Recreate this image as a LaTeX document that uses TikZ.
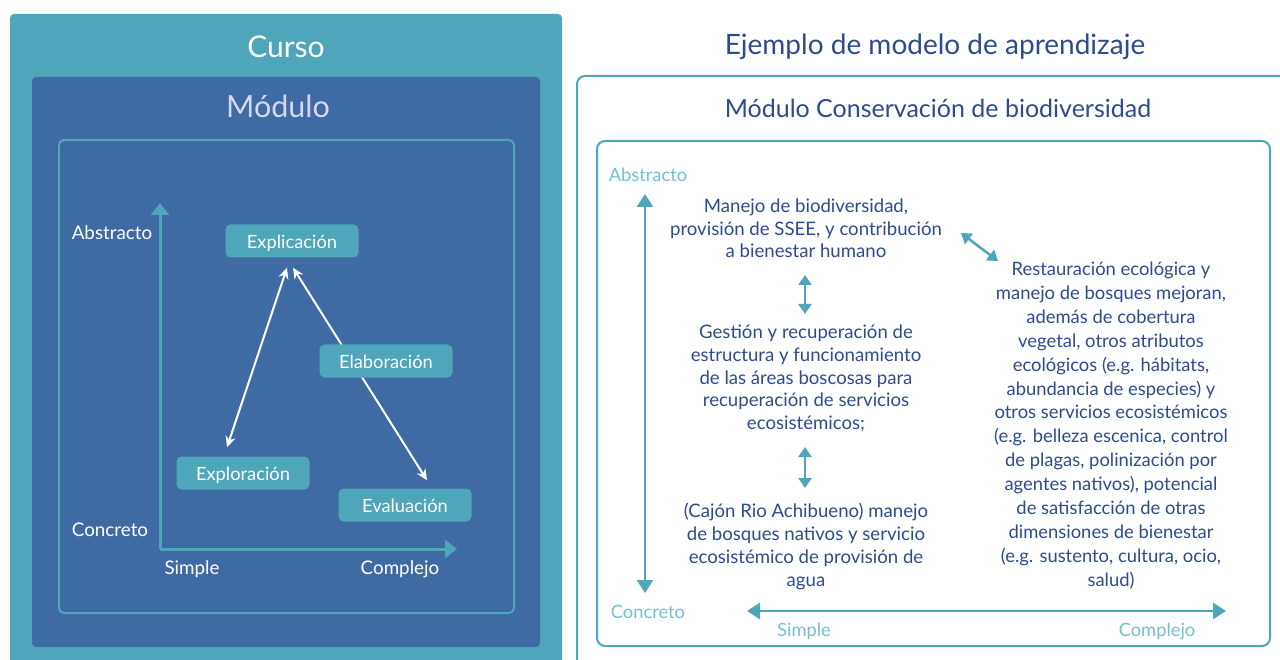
\documentclass[tikz,border=0pt]{standalone}
\usepackage{fontspec}
\setmainfont{Lato}
\usetikzlibrary{arrows.meta}
\definecolor{tealA}{HTML}{4FA6BA}
\definecolor{navybg}{HTML}{3E6BA3}
\definecolor{darkblue}{HTML}{2D4C8E}
\definecolor{lightteal}{HTML}{74C1CE}
\definecolor{lilac}{HTML}{D3D7F0}
\tikzset{
  stagebox/.style={fill=tealA, rounded corners=5, text=white, minimum width=133, minimum height=33, inner sep=0, text height=19, text depth=4, font=\fontsize{18.3}{20}\selectfont},
  warrow/.style={draw=white, line width=2, {Stealth[length=11,width=10]}-{Stealth[length=11,width=10]}},
  axisarrow/.style={draw=tealA, line width=3, -{Triangle[length=12,width=18]}},
  darr/.style={draw=tealA, line width=2.5, {Triangle[length=10,width=13]}-{Triangle[length=10,width=13]}},
  bigdarr/.style={draw=tealA, line width=2.5, {Triangle[length=13,width=16]}-{Triangle[length=13,width=16]}},
  axlabel/.style={text=white, font=\fontsize{18.8}{21}\selectfont, inner sep=0},
  raxlabel/.style={text=lightteal, font=\fontsize{18.3}{21}\selectfont, inner sep=0},
  bodytext/.style={text=darkblue, align=center, inner sep=0},
}
\begin{document}
\begin{tikzpicture}[x=1pt,y=-1pt]
\useasboundingbox (0,0) rectangle (1280,660);
\fill[white] (0,0) rectangle (1280,660);
% ---------- left panel
\fill[tealA, rounded corners=4] (10,14) rectangle (562,690);
\fill[navybg, rounded corners=4] (32,77) rectangle (540,647);
\draw[tealA, line width=2, rounded corners=5] (59,140) rectangle (514,613);
\node[text=white, font=\fontsize{30}{33}\selectfont] (curso) at (286,47) {Curso};
\node[text=lilac, font=\fontsize{30.5}{34}\selectfont] (modulo) at (278,106) {Módulo};

\coordinate (O) at (160,549);
\coordinate (ytop) at (160,203);
\coordinate (xend) at (457,549);
\draw[axisarrow] (O) -- (ytop);
\draw[axisarrow] (O) -- (xend);
\node[axlabel] (abs) at (112,233) {Abstracto};
\node[axlabel] (conc) at (110,530) {Concreto};
\node[axlabel] (simp) at (192,569) {Simple};
\node[axlabel] (comp) at (400,569) {Complejo};

\node[stagebox] (expli) at (292,241) {Explicación};
\node[stagebox] (explo) at (243,473) {Exploración};
\node[stagebox] (eval) at (405,505) {Evaluación};
\draw[warrow] ([xshift=-16pt,yshift=9pt]explo.north) -- ([xshift=-5pt,yshift=-10pt]expli.south);
\draw[warrow] ([xshift=1pt,yshift=-10pt]expli.south) -- ([xshift=22pt,yshift=8pt]eval.north);
\node[stagebox] (elab) at (386,361) {Elaboración};

% ---------- right panel
\node[text=darkblue, font=\fontsize{28}{32}\selectfont] (ejemplo) at (935,47) {Ejemplo de modelo de aprendizaje};
\draw[tealA, line width=2, rounded corners=8] (577,76) rectangle (1300,690);
\node[text=darkblue, font=\fontsize{25}{29}\selectfont] (modcons) at (938,108) {Módulo Conservación de biodiversidad};
\draw[tealA, line width=2, rounded corners=8] (597,141) rectangle (1270,646);

\node[raxlabel] (rabs) at (648,175) {Abstracto};
\node[raxlabel] (rconc) at (648,612) {Concreto};
\node[raxlabel] (rsimp) at (804,631) {Simple};
\node[raxlabel] (rcomp) at (1157,631) {Complejo};

\coordinate (vtop) at (645,194);
\coordinate (vbot) at (645,593);
\coordinate (hl) at (747,611);
\coordinate (hr) at (1226,611);
\draw[bigdarr] (vtop) -- (vbot);
\draw[bigdarr] (hl) -- (hr);

\node[bodytext, font=\fontsize{18.6}{22.5}\selectfont] (b1) at (806,228.5)
  {Manejo de biodiversidad,\\provisión de SSEE, y contribución\\a bienestar humano};
\node[bodytext, font=\fontsize{18.6}{22.75}\selectfont] (b2) at (806,378.5)
  {Gestión y recuperación de\\estructura y funcionamiento\\de las áreas boscosas para\\recuperación de servicios\\ecosistémicos;};
\node[bodytext, font=\fontsize{18.6}{23}\selectfont] (b3) at (806,546.5)
  {(Cajón Rio Achibueno) manejo\\de bosques nativos y servicio\\ecosistémico de provisión de\\agua};
\node[bodytext, font=\fontsize{18.4}{23.9}\selectfont] (b4) at (1111,425.5)
  {Restauración ecológica y\\manejo de bosques mejoran,\\además de cobertura\\vegetal, otros atributos\\ecológicos (e.g. hábitats,\\abundancia de especies) y\\otros servicios ecosistémicos\\(e.g. belleza escenica, control\\de plagas, polinización por\\agentes nativos), potencial\\de satisfacción de otras\\dimensiones de bienestar\\(e.g. sustento, cultura, ocio,\\salud)};

\coordinate (a1t) at (805,275);
\coordinate (a1b) at (805,314);
\coordinate (a2t) at (805,447);
\coordinate (a2b) at (805,488);
\coordinate (a3a) at (961,233);
\coordinate (a3b) at (998,261);
\draw[darr] (a1t) -- (a1b);
\draw[darr] (a2t) -- (a2b);
\draw[darr] (a3a) -- (a3b);
\end{tikzpicture}
\end{document}
